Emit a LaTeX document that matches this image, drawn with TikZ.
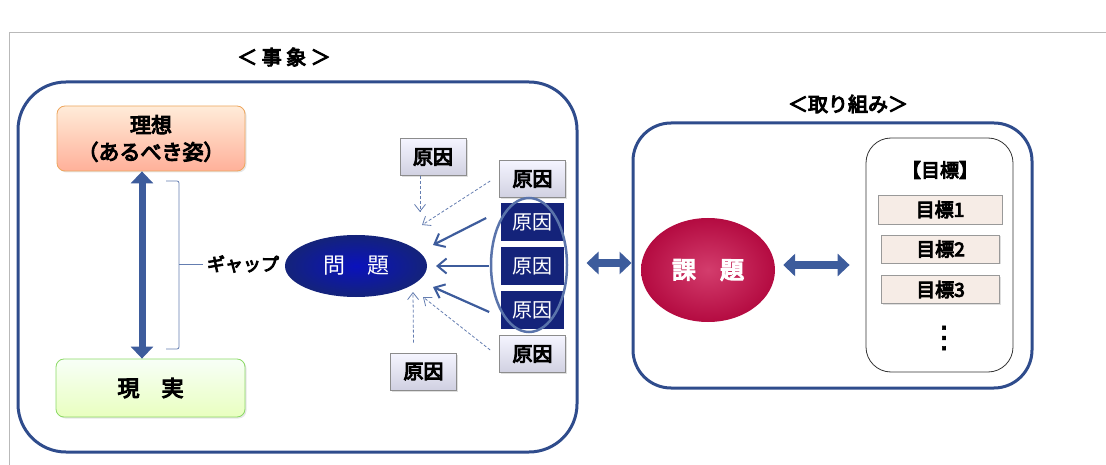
\documentclass[tikz,border=0pt]{standalone}
\usepackage{fontspec}
\setmainfont{Noto Sans CJK JP}[BoldFont={Noto Sans CJK JP},BoldFeatures={FakeBold=5}]
\newfontfamily\symfont{DejaVu Sans}[FakeBold=2]
\usetikzlibrary{shapes.geometric,arrows.meta,shadows}
\definecolor{boxblue}{HTML}{2F4C8C}
\definecolor{arrblue}{HTML}{3D5C9C}
\definecolor{navy}{HTML}{14237A}
\definecolor{crimson}{HTML}{C80C48}
\definecolor{goalfill}{HTML}{F6ECE6}
\begin{document}
\begin{tikzpicture}[x=1pt,y=-1pt,
  font=\bfseries,
  bigbox/.style={draw=boxblue,line width=3pt,minimum width=#1},
  title/.style={font=\fontsize{20}{24}\selectfont\bfseries},
  cause/.style={draw=black!45,line width=0.6pt,top color=blue!4,bottom color=blue!22!gray!30,
     minimum width=66,minimum height=37,inner sep=0pt,font=\fontsize{20}{22}\selectfont\bfseries,
     drop shadow={shadow xshift=1.5pt,shadow yshift=-1.5pt,opacity=0.25}},
  dcause/.style={fill=navy,draw=white,line width=0.6pt,minimum width=64,minimum height=39,inner sep=0pt,
     text=white,font=\fontsize{20}{22}\selectfont},
  goal/.style={draw=black!40,line width=0.6pt,fill=goalfill,minimum width=118,minimum height=28,inner sep=0pt,
     font=\fontsize{19}{22}\selectfont\bfseries,drop shadow={shadow xshift=1pt,shadow yshift=-1.5pt,opacity=0.25}},
  solidarr/.style={draw=arrblue,line width=2.2pt,-{Straight Barb[length=9pt,width=15pt,line width=2pt]}},
  dasharr/.style={draw=arrblue!80,line width=0.8pt,dashed,dash pattern=on 3pt off 2pt,-{Straight Barb[length=7pt,width=11pt,line width=0.8pt]}},
  fatarr/.style={draw=arrblue,line width=8pt,{Triangle[length=12pt,width=22pt]}-{Triangle[length=12pt,width=22pt]}}
]
\useasboundingbox (0,0) rectangle (1106,465);
\draw[gray!55,line width=0.8pt] (9,465) -- (9,32) -- (1106,32);

% big boxes
\node[bigbox=559,minimum height=370,rounded corners=48pt] (ev) at (297.5,267) {};
\node[bigbox=399,minimum height=265,rounded corners=38pt] (tk) at (832.5,255.5) {};
\node[title] (t1) at (284,57) {＜ 事 象 ＞};
\node[title] (t2) at (848,104) {＜取り組み＞};

% ideal / reality
\node[draw=orange!60!brown!70,line width=0.8pt,top color=orange!15,bottom color=orange!45!red!40,rounded corners=8pt,
   minimum width=188,minimum height=65,align=center,font=\fontsize{21}{27}\selectfont\bfseries,inner sep=0pt,
   drop shadow={shadow xshift=1.5pt,shadow yshift=-1.5pt,opacity=0.2}] (ideal) at (151,138.5) {理想\\（あるべき姿）};
\node[draw=green!50!olive!60,line width=0.8pt,top color=green!3,bottom color=green!35!yellow!25,rounded corners=8pt,
   minimum width=189,minimum height=58,font=\fontsize{22}{26}\selectfont\bfseries,
   drop shadow={shadow xshift=1.5pt,shadow yshift=-1.5pt,opacity=0.2}] (real) at (150.5,388) {現\hspace{1em}実};
\draw[fatarr,line width=7pt] ([xshift=-9pt]ideal.south) -- ([xshift=-8.5pt]real.north);

% brace
\draw[arrblue!80,line width=0.8pt,rounded corners=2pt] (166,181) -- (179,181) -- (179,349) -- (166,349);
\node[font=\fontsize{18}{21}\selectfont\bfseries] (gap) at (243,264) {ギャップ};
\draw[arrblue!80,line width=0.8pt] (179,264) -- (gap.west);

% problem
\node[ellipse,inner color=blue!50!navy,outer color=navy,minimum width=142,minimum height=62,text=white,
   font=\fontsize{22}{26}\selectfont] (prob) at (356,266) {問\hspace{1em}題};

% causes
\node[cause] (c1) at (433,157) {原因};
\node[cause] (c2) at (423.5,371.5) {原因};
\node[cause] (r1) at (532.5,179) {原因};
\node[dcause] (r2) at (532.5,222) {原因};
\node[dcause] (r3) at (532.5,266) {原因};
\node[dcause] (r4) at (532.5,310) {原因};
\node[cause] (r5) at (532.5,354) {原因};
\node[ellipse,draw=arrblue!85,line width=2.5pt,minimum width=76,minimum height=134] (loop) at (529,265) {};

\coordinate (e1) at (420,212);
\coordinate (e2) at (422,225);
\coordinate (e3) at (433,245);
\coordinate (e4) at (436,266);
\coordinate (e5) at (433,287);
\coordinate (e6) at (423,297);
\coordinate (e7) at (413,292);
\draw[dasharr] ([xshift=-13pt]c1.south) -- (e1);
\draw[dasharr] ([xshift=-9pt,yshift=-2pt]r1.west) -- (e2);
\draw[solidarr] ([xshift=-14pt,yshift=4pt]r2.west) -- (e3);
\draw[solidarr] ([xshift=-11pt]r3.west) -- (e4);
\draw[solidarr] ([xshift=-11pt,yshift=-2pt]r4.west) -- (e5);
\draw[dasharr] ([xshift=-9pt,yshift=4pt]r5.west) -- (e6);
\draw[dasharr] ([xshift=-10pt,yshift=10pt]c2.north) -- (e7);

% connection
\draw[fatarr] ([xshift=8pt,yshift=4pt]ev.east) -- ([yshift=-7.5pt]tk.west);

% task
\node[ellipse,inner color=crimson!80!white,outer color=crimson!90!black,minimum width=134,minimum height=104,text=white,
   font=\fontsize{24}{28}\selectfont\bfseries] (task) at (708,270) {課\hspace{1em}題};
\node[draw=black!80,line width=0.8pt,rounded corners=25pt,minimum width=147,minimum height=234] (gbox) at (939.5,255) {};
\draw[fatarr] ([xshift=8pt]task.east |- 0,265) -- ([xshift=-16pt]gbox.west |- 0,265);
\node[font=\fontsize{19}{22}\selectfont\bfseries] (gh) at (940,170) {【目標】};
\node[goal,minimum width=124,minimum height=29] (g1) at (940,209.5) {目標1};
\node[goal] (g2) at (940.5,249) {目標2};
\node[goal] (g3) at (940.5,289.5) {目標3};
\node[font=\fontsize{30}{34}\symfont] (dots) at (944,338) {⋮};
\end{tikzpicture}
\end{document}
